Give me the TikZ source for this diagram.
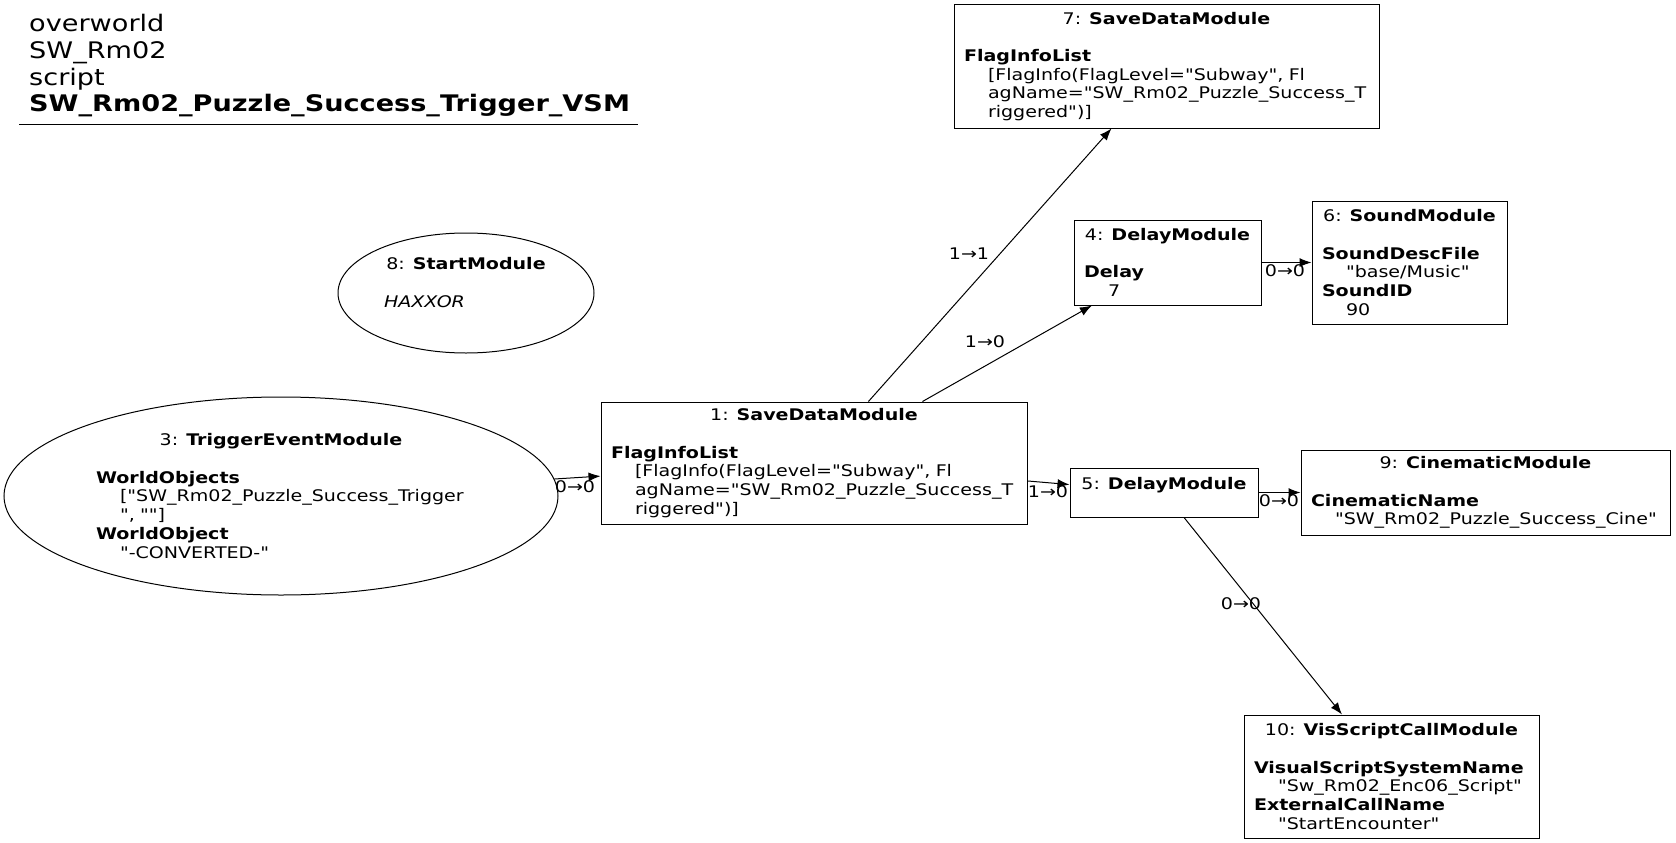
\documentclass[tikz,border=0pt]{standalone}
\usepackage{fontspec}
\setmainfont{DejaVu Sans}[FakeStretch=1.19, Ligatures=TeXOff]
\usepackage{tikz}
\usetikzlibrary{arrows.meta,shapes.geometric}

\newcommand{\modfont}{\fontsize{16}{18.7}\selectfont}
\newcommand{\titlefont}{\fontsize{22.8}{26.6}\selectfont}
\newcommand{\hd}[2]{\hskip0pt plus1filll #1: \textbf{#2}\hskip0pt plus1filll\null}
\newcommand{\vl}[1]{\hspace*{24pt}#1}

\begin{document}
\begin{tikzpicture}[x=1pt,y=-1pt,
    mod/.style={draw, rectangle, line width=1pt, inner xsep=10pt, inner ysep=0pt, align=left, font=\modfont},
    oval/.style={draw, ellipse, line width=1pt, inner sep=0pt, align=left, font=\modfont},
    edge/.style={line width=1pt, -{Latex[length=12pt,width=9pt]}},
    elabel/.style={font=\modfont, inner sep=0pt}]
    \useasboundingbox (0,0) rectangle (1676,843);

    %title
    \node[anchor=north west, inner sep=0pt, align=left, font=\titlefont] (title) at (29,14.4)
        {overworld\\SW\_Rm02\\script\\\textbf{SW\_Rm02\_Puzzle\_Success\_Trigger\_VSM}};
    \draw[line width=1pt] (19,124) -- (638,124);

    %modules
    \node[oval, minimum width=256pt, minimum height=120pt, text width=164pt] (n8) at (466,293)
        {\hd{8}{StartModule}\\[\baselineskip]\textit{HAXXOR}\\[2.7pt]\mbox{}};
    \node[oval, minimum width=554pt, minimum height=198pt, text width=370pt] (n3) at (281,496)
        {\hd{3}{TriggerEventModule}\\[\baselineskip]
         \textbf{WorldObjects}\\\vl{["SW\_Rm02\_Puzzle\_Success\_Trigger}\\\vl{", ""]}\\
         \textbf{WorldObject}\\\vl{"-CONVERTED-"}};
    \node[mod, minimum height=122pt, text width=406pt] (n1) at (814,463)
        {\hd{1}{SaveDataModule}\\[\baselineskip]
         \textbf{FlagInfoList}\\\vl{[FlagInfo(FlagLevel="Subway", Fl}\\
         \vl{agName="SW\_Rm02\_Puzzle\_Success\_T}\\\vl{riggered")]}};
    \node[mod, minimum height=123pt, text width=405pt] (n7) at (1166.5,66.5)
        {\hd{7}{SaveDataModule}\\[\baselineskip]
         \textbf{FlagInfoList}\\\vl{[FlagInfo(FlagLevel="Subway", Fl}\\
         \vl{agName="SW\_Rm02\_Puzzle\_Success\_T}\\\vl{riggered")]}};
    \node[mod, minimum height=85pt, text width=167pt] (n4) at (1167.5,262.5)
        {\hd{4}{DelayModule}\\[\baselineskip]\textbf{Delay}\\\vl{7}};
    \node[mod, minimum height=123pt, text width=175pt] (n6) at (1409.5,262.5)
        {\hd{6}{SoundModule}\\[\baselineskip]
         \textbf{SoundDescFile}\\\vl{"base/Music"}\\\textbf{SoundID}\\\vl{90}};
    \node[mod, minimum height=49pt, text width=168pt] (n5) at (1164,492.5)
        {\hd{5}{DelayModule}\\\mbox{}};
    \node[mod, minimum height=85pt, text width=349pt] (n9) at (1485.5,492.5)
        {\hd{9}{CinematicModule}\\[\baselineskip]
         \textbf{CinematicName}\\\vl{"SW\_Rm02\_Puzzle\_Success\_Cine"}};
    \node[mod, minimum height=123pt, text width=275pt] (n10) at (1391.5,776.5)
        {\hd{10}{VisScriptCallModule}\\[\baselineskip]
         \textbf{VisualScriptSystemName}\\\vl{"Sw\_Rm02\_Enc06\_Script"}\\
         \textbf{ExternalCallName}\\\vl{"StartEncounter"}};

    %links
    \draw[edge] (n3) -- (n1);
    \draw[edge] (n1) -- (n7);
    \draw[edge] (n1) -- (n4);
    \draw[edge] (n1) -- (n5);
    \draw[edge] (n4) -- (n6);
    \draw[edge] (n5) -- (n9);
    \draw[edge] (n5) -- (n10);

    \node[elabel] (l31) at (575,487) {0→0};
    \node[elabel] (l17) at (969,254) {1→1};
    \node[elabel] (l14) at (985,342) {1→0};
    \node[elabel] (l15) at (1048,492) {1→0};
    \node[elabel] (l46) at (1285,271) {0→0};
    \node[elabel] (l59) at (1279,501) {0→0};
    \node[elabel] (l510) at (1241,604) {0→0};
\end{tikzpicture}
\end{document}
